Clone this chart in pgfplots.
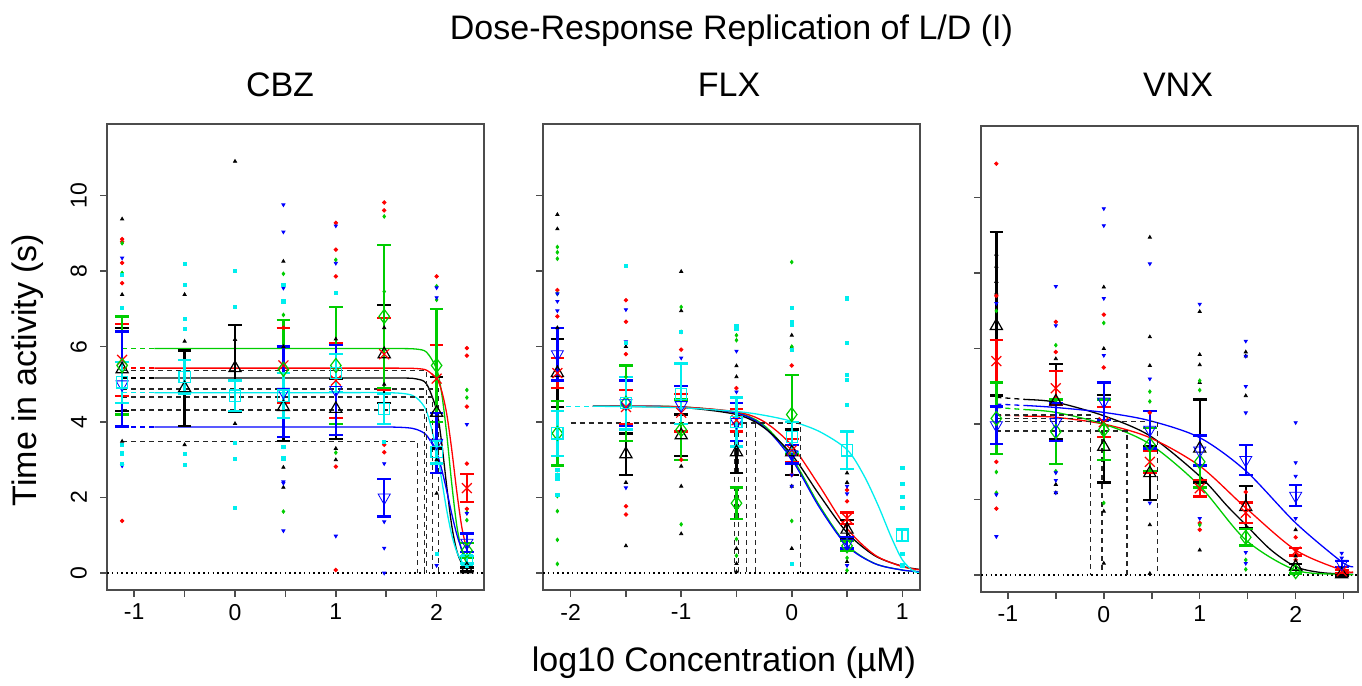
\documentclass[border=0pt]{standalone}
\usepackage{pgfplots}
\pgfplotsset{compat=1.18}
\usepackage{fontspec}
\setmainfont{Liberation Sans}
\definecolor{rred}{RGB}{255,0,0}
\definecolor{rgreen}{RGB}{0,205,0}
\definecolor{rblue}{RGB}{0,0,255}
\definecolor{rcyan}{RGB}{0,238,238}
\pgfplotsset{
 panel/.style={
  scale only axis, width=188.5pt, height=233pt,
  ymin=-0.45, ymax=11.9,
  ytick={0,2,4,6,8,10},
  tick align=outside, major tick length=3.5pt,
  xtick pos=left, ytick pos=left,
  axis line style={black!70, line width=0.75pt},
  tick style={black!70, line width=0.75pt},
  tick label style={font=\fontsize{11.5}{13}\selectfont, black},
  yticklabel style={rotate=90, anchor=south},
  yticklabel shift=3pt,
  anchor=south west,
 },
 mean/.style={only marks, mark size=3.5pt, mark options={line width=0.6pt, solid, fill=none},
  error bars/y dir=both, error bars/y explicit,
  error bars/error bar style={line width=1.15pt, solid},
  error bars/error mark options={rotate=90, mark size=3.4pt, line width=1.15pt}},
 dots/.style={only marks, mark size=0.9pt, mark options={solid}},
 fit/.style={line width=0.65pt, smooth, tension=0.5},
 ext/.style={line width=0.65pt, dash pattern=on 2.5pt off 2pt},
 ec/.style={black!85, line width=0.7pt, dash pattern=on 2.5pt off 2pt},
 zero/.style={black, line width=0.8pt, dash pattern=on 0.8pt off 1.6pt},
}
\newcommand{\bigfont}{\fontsize{17}{20}\selectfont}
\begin{document}
\begin{tikzpicture}
\useasboundingbox (0,0) rectangle (681pt,343pt);
\node[anchor=base, font=\bigfont] at (365.75pt,323pt) {Dose-Response Replication of L/D (I)};
\node[anchor=base, font=\bigfont] at (140pt,294.6pt) {CBZ};
\node[anchor=base, font=\bigfont] at (364.5pt,294.6pt) {FLX};
\node[anchor=base, font=\bigfont] at (589pt,294.6pt) {VNX};
\node[rotate=90, font=\bigfont] at (14pt,158pt) {Time in activity (s)};
\node[anchor=base, font=\bigfont] at (362pt,7pt) {log10 Concentration (µM)};

% ---------------- CBZ ----------------
\begin{axis}[panel, at={(53.5pt,48pt)}, xmin=-1.27, xmax=2.47,
  xtick={-1,-0.5,0,0.5,1,1.5,2}, xticklabels={-1,,0,,1,,2},
  yticklabels={0,2,4,6,8,10}]
\addplot[zero] coordinates {(-1.27,0)(2.47,0)};
\addplot[dots, black, mark=triangle*] coordinates {(-1.12,9.38)(-1.12,7.38)(-1.12,3.49)(-0.5,7.38)(-0.5,6.14)(-0.5,3.4)(0,10.91)(0,6.19)(0,3.96)(0.48,8.26)(0.48,2.8)(0.48,2.27)(1,3.0)(1,3.3)(1.48,5.0)(2,2.11)(2.3,0.05)(2,3.0)(1.48,6.5)(0.48,6.0)(1,6.2)};
\addplot[dots, rred, mark=*] coordinates {(-1.12,8.85)(-1.12,8.78)(-1.12,8.22)(-1.12,7.68)(-1.12,1.38)(0.48,6.5)(0.48,7.2)(1,9.28)(1,8.57)(1,7.86)(1,2.82)(1,0.08)(1.48,9.82)(1.48,9.61)(1.48,3.4)(1.48,3.2)(2,7.86)(2.3,5.96)(2.3,5.76)(2.3,4.41)(2.3,2.9)(2.3,1.7)};
\addplot[dots, rgreen, mark=diamond*] coordinates {(-1.12,8.74)(-1.12,7.95)(0.48,7.93)(0.48,6.84)(0.48,1.63)(1,8.3)(1,3.19)(1.48,9.45)(1.48,7.46)(2,7.6)(2,7.24)(2.3,4.85)(2.3,4.65)(2.3,1.6)(2.3,1.4)};
\addplot[dots, rblue, mark=triangle*, mark options={rotate=180}] coordinates {(-1.12,8.35)(-1.12,2.84)(0.48,9.76)(0.48,9.04)(0.48,7.55)(0.48,2.42)(0.48,2.38)(0.48,1.12)(0.48,3.35)(1,9.2)(1,8.21)(1,0.98)(1.48,2.9)(1.48,1.36)(1.48,0.66)(1.48,0.0)(2,7.56)(2,7.3)(2,0.2)(2.3,3.94)(2.3,1.58)};
\addplot[dots, rcyan, mark=square*, mark size=0.8pt] coordinates {(-1.12,7.9)(-1.12,7.02)(-1.12,3.17)(-1.12,2.9)(-1.12,3.4)(-0.5,8.19)(-0.5,7.63)(-0.5,6.73)(-0.5,6.46)(-0.5,3.15)(-0.5,2.87)(0,8.0)(0,7.05)(0,3.44)(0,3.02)(0,1.72)(0.48,7.63)(0.48,7.2)(0.48,3.35)(0.48,3.04)(1,7.43)(1.48,3.48)(2,0.51)(2.3,0.2)};
% fitted curves
\addplot[ext, rgreen] coordinates {(-1.12,5.95)(-0.8,5.95)};
\addplot[fit, rgreen] coordinates {(-0.8,5.95)(0,5.95)(1,5.95)(1.5,5.95)(1.7,5.947)(1.8,5.934)(1.9,5.853)(2.0,5.406)(2.05,4.764)(2.1,3.686)(2.15,2.365)(2.2,1.255)(2.25,0.581)(2.3,0.25)};
\addplot[ext, rred] coordinates {(-1.12,5.43)(-0.8,5.43)};
\addplot[fit, rred] coordinates {(-0.8,5.43)(0,5.43)(1,5.43)(1.5,5.43)(1.7,5.428)(1.8,5.419)(1.9,5.375)(2.0,5.148)(2.05,4.826)(2.1,4.219)(2.15,3.271)(2.2,2.159)(2.25,1.212)(2.3,0.604)};
\addplot[ext, black] coordinates {(-1.12,5.17)(-0.8,5.17)};
\addplot[fit, black] coordinates {(-0.8,5.17)(0,5.17)(1,5.17)(1.5,5.17)(1.7,5.166)(1.8,5.144)(1.9,5.011)(2.0,4.312)(2.05,3.452)(2.1,2.302)(2.15,1.255)(2.2,0.587)(2.25,0.252)(2.3,0.103)};
\addplot[ext, rcyan] coordinates {(-1.12,4.78)(-0.8,4.78)};
\addplot[fit, rcyan] coordinates {(-0.8,4.78)(0,4.78)(1,4.78)(1.5,4.78)(1.7,4.746)(1.8,4.645)(1.9,4.283)(2.0,3.261)(2.05,2.473)(2.1,1.667)(2.15,1.008)(2.2,0.564)(2.25,0.299)(2.3,0.154)};
\addplot[ext, rblue] coordinates {(-1.12,3.87)(-0.8,3.87)};
\addplot[fit, rblue] coordinates {(-0.8,3.87)(0,3.87)(1,3.87)(1.5,3.87)(1.7,3.852)(1.8,3.806)(1.9,3.651)(2.0,3.183)(2.05,2.747)(2.1,2.181)(2.15,1.569)(2.2,1.024)(2.25,0.617)(2.3,0.352)};
% EC lines
\addplot[ec] coordinates {(-1.12,5.37)(1.9,5.37)(1.9,0)};
\addplot[ec] coordinates {(-1.12,4.88)(2.02,4.88)(2.02,0)};
\addplot[ec] coordinates {(-1.12,4.66)(1.96,4.66)(1.96,0)};
\addplot[ec] coordinates {(-1.12,4.32)(1.88,4.32)(1.88,0)};
\addplot[ec] coordinates {(-1.12,3.48)(1.81,3.48)(1.81,0)};
% means
\addplot[mean, black, mark=triangle] coordinates {(-1.12,5.4) +- (0,1.1) (-0.5,4.9) +- (0,1.0) (0,5.43) +- (0,1.15) (0.48,4.4) +- (0,0.9) (1,4.35) +- (0,0.8) (1.48,5.8) +- (0,1.3) (2,4.25) +- (0,0.95) (2.3,0.1) +- (0,0.05)};
\addplot[mean, rred, mark=x] coordinates {(-1.12,5.65) +- (0,0.95) (0.48,5.5) +- (0,1.0) (1,5.1) +- (0,1.0) (1.48,5.8) +- (0,0.95) (2,5.15) +- (0,0.9) (2.3,2.25) +- (0,0.37)};
\addplot[mean, rgreen, mark=diamond] coordinates {(-1.12,5.5) +- (0,1.3) (0.48,5.4) +- (0,1.3) (1,5.5) +- (0,1.55) (1.48,6.8) +- (0,1.9) (2,5.5) +- (0,1.5) (2.3,0.6) +- (0,0.2)};
\addplot[mean, rblue, mark=triangle, mark options={rotate=180}] coordinates {(-1.12,5.0) += (0,1.4) -= (0,1.12) (0.48,4.8) +- (0,1.2) (1,4.85) +- (0,1.2) (1.48,2.0) +- (0,0.5) (2,3.45) +- (0,0.8) (2.3,0.8) +- (0,0.25)};
\addplot[mean, rcyan, mark=square, mark size=2.8pt] coordinates {(-1.12,5.05) +- (0,0.55) (-0.5,5.2) +- (0,0.45) (0,4.7) +- (0,0.4) (0.48,4.7) +- (0,0.6) (1,5.3) +- (0,0.5) (1.48,4.35) +- (0,0.4) (2,3.2) +- (0,0.3) (2.3,0.35) +- (0,0.1)};
\end{axis}

% ---------------- FLX ----------------
\begin{axis}[panel, at={(271.5pt,48pt)}, xmin=-2.25, xmax=1.16,
  xtick={-2,-1.5,-1,-0.5,0,0.5,1}, xticklabels={-2,,-1,,0,,1},
  yticklabels={}]
\addplot[zero] coordinates {(-2.25,0)(1.16,0)};
\addplot[dots, black, mark=triangle*] coordinates {(-2.12,9.5)(-2.12,9.12)(-2.12,6.5)(-1.5,0.72)(-1.5,2.4)(-1.5,6.0)(-1,7.99)(-1,6.95)(-1,2.3)(-1,1.04)(-1,2.83)(-0.5,5.49)(-0.5,0.65)(-0.5,0.25)(-0.5,0.03)(-0.5,5.2)(0,6.3)(0,5.98)(0,0.65)(0,2.3)(0.5,2.65)(0.5,2.4)(0.5,0.3)};
\addplot[dots, rred, mark=*] coordinates {(-2.12,7.5)(-2.12,6.8)(-2.12,2.6)(-1.5,7.23)(-1.5,6.66)(-1.5,1.77)(-1.5,1.55)(-1.5,5.8)(-1,5.92)(-1,3.0)(-0.5,4.9)(0,5.5)(0,2.6)(0.5,2.2)(0.5,1.9)};
\addplot[dots, rgreen, mark=diamond*] coordinates {(-2.12,8.64)(-2.12,8.5)(-2.12,8.33)(-2.12,2.04)(-2.12,1.64)(-2.12,0.88)(-2.12,0.24)(-2.12,7.4)(-1,7.05)(-1,6.39)(-1,1.29)(-0.5,6.3)(-0.5,6.17)(-0.5,0.46)(-0.5,0.9)(0,8.24)(0,1.38)(0,6.0)(0.5,0.07)(0.5,0.4)(-1.5,5.2)};
\addplot[dots, rblue, mark=triangle*, mark options={rotate=180}] coordinates {(-2.12,7.4)(-2.12,7.2)(-2.12,6.95)(-1.5,6.98)(-1.5,6.13)(-1.5,2.26)(-1,5.7)(-0.5,5.88)(-0.5,4.8)(0,2.6)(0,2.3)(0.5,2.3)(0.5,2.1)(0.5,0.2)};
\addplot[dots, rcyan, mark=square*, mark size=0.8pt] coordinates {(-2.12,2.74)(-2.12,2.6)(-2.12,2.5)(-2.12,2.08)(-1.5,8.13)(-1.5,6.1)(-1,6.4)(-0.5,6.55)(-0.5,6.47)(0,7.03)(0,6.66)(0,6.57)(0,5.91)(0,0.24)(0.5,7.28)(0.5,6.09)(0.5,5.25)(0.5,5.12)(0.5,4.46)(1,2.78)(1,2.37)(1,2.01)(1,1.73)(1,0.2)(1,0.5)};
\addplot[ext, rcyan] coordinates {(-2.12,4.42)(-1.8,4.42)};
\addplot[fit, rgreen] coordinates {(-1.8,4.42)(-1.5,4.418)(-1,4.405)(-0.5,4.25)(-0.25,3.91)(0,3.07)(0.25,1.79)(0.5,0.745)(0.75,0.253)(1,0.079)(1.15,0.039)};
\addplot[fit, rblue] coordinates {(-1.8,4.42)(-1.5,4.418)(-1,4.40)(-0.5,4.24)(-0.25,3.87)(0,3.01)(0.25,1.74)(0.5,0.72)(0.75,0.25)(1,0.078)(1.15,0.038)};
\addplot[fit, black] coordinates {(-1.8,4.42)(-1.5,4.416)(-1,4.39)(-0.5,4.2)(-0.25,3.85)(0,3.14)(0.25,2.07)(0.5,1.07)(0.75,0.46)(1,0.18)(1.15,0.098)};
\addplot[fit, rred] coordinates {(-1.8,4.42)(-1.5,4.418)(-1,4.40)(-0.5,4.27)(-0.25,4.01)(0,3.38)(0.25,2.31)(0.5,1.18)(0.75,0.48)(1,0.17)(1.15,0.092)};
\addplot[fit, rcyan] coordinates {(-1.8,4.42)(-1.5,4.41)(-1,4.38)(-0.5,4.28)(-0.25,4.18)(0,4.02)(0.25,3.75)(0.5,3.27)(0.65,2.6)(0.78,1.8)(0.9,0.95)(1.0,0.35)(1.1,0.05)(1.15,0.02)};
\addplot[ec] coordinates {(-2.0,3.98)(0.08,3.98)(0.08,0)};
\addplot[ec] coordinates {(-0.52,3.98)(-0.52,0)};
\addplot[ec] coordinates {(-0.48,3.98)(-0.48,0)};
\addplot[ec] coordinates {(-0.41,3.98)(-0.41,0)};
\addplot[ec] coordinates {(-0.33,3.98)(-0.33,0)};
\addplot[mean, black, mark=triangle] coordinates {(-2.12,5.3) +- (0,0.9) (-1.5,3.15) +- (0,0.55) (-1,3.65) +- (0,0.55) (-0.5,3.2) +- (0,0.55) (0,3.2) +- (0,0.6) (0.5,1.15) +- (0,0.25)};
\addplot[mean, rred, mark=x] coordinates {(-2.12,5.3) +- (0,0.4) (-1.5,4.4) +- (0,0.45) (-1,4.25) +- (0,0.5) (-0.5,4.05) +- (0,0.3) (0,3.25) +- (0,0.3) (0.5,1.45) +- (0,0.15)};
\addplot[mean, rgreen, mark=diamond] coordinates {(-2.12,3.7) +- (0,0.85) (-1.5,4.5) +- (0,1.0) (-1,3.8) +- (0,0.8) (-0.5,1.85) +- (0,0.42) (0,4.2) +- (0,1.05) (0.5,0.72) +- (0,0.12)};
\addplot[mean, rblue, mark=triangle, mark options={rotate=180}] coordinates {(-2.12,5.8) +- (0,0.7) (-1.5,4.5) +- (0,0.6) (-1,4.45) +- (0,0.5) (-0.5,4.0) +- (0,0.5) (0,3.15) +- (0,0.25) (0.5,0.8) +- (0,0.15)};
\addplot[mean, rcyan, mark=square, mark size=2.8pt] coordinates {(-2.12,3.7) +- (0,0.6) (-1.5,4.5) +- (0,0.7) (-1,4.75) +- (0,0.8) (-0.5,4.0) +- (0,0.65) (0,3.6) +- (0,0.4) (0.5,3.25) +- (0,0.5) (1,1.0) +- (0,0.15)};
\end{axis}

% ---------------- VNX ----------------
\begin{axis}[panel, at={(490.5pt,47pt)}, xmin=-1.28, xmax=2.65,
  xtick={-1,-0.5,0,0.5,1,1.5,2,2.5}, xticklabels={-1,,0,,1,,2,},
  yticklabels={}]
\addplot[zero] coordinates {(-1.28,0)(2.65,0)};
\addplot[dots, black, mark=triangle*] coordinates {(-1.12,8.18)(-1.12,7.78)(-1.12,7.47)(-1.12,8.5)(-0.5,5.73)(-0.5,2.18)(-0.5,2.4)(0,7.63)(0,1.69)(0,0.31)(0,6.0)(0.48,8.95)(0.48,6.31)(0.48,5.55)(0.48,1.33)(0.48,0.04)(1,6.98)(1,5.84)(1,5.57)(1,0.66)(1,5.1)(1.48,5.91)(1.48,4.75)(1.48,5.8)(2,0.5)(2,1.2)};
\addplot[dots, rred, mark=*] coordinates {(-1.12,10.9)(-1.12,1.76)(-1.12,3.0)(-1.12,7.4)(-0.5,6.71)(-0.5,5.91)(0,6.9)(0,5.5)(0.48,4.3)(1,1.38)(1,1.2)(1.48,2.2)(2,1.0)(2,0.4)};
\addplot[dots, rgreen, mark=diamond*] coordinates {(-1.12,2.73)(-1.12,2.18)(-1.12,7.0)(-0.5,6.09)(-0.5,2.75)(0,6.68)(0,1.91)(0.48,4.86)(0.48,4.6)(1,5.15)(1,1.33)(1,4.9)(1.48,0.15)(1.48,0.4)(2,0.05)};
\addplot[dots, rblue, mark=triangle*, mark options={rotate=180}] coordinates {(-1.12,7.2)(-1.12,2.13)(-1.12,1.02)(-0.5,7.65)(-0.5,6.61)(-0.5,2.71)(-0.5,2.51)(-0.5,2.18)(0,9.71)(0,9.26)(0,7.33)(0,5.82)(0.48,8.25)(0.48,1.91)(0.48,5.2)(1,7.18)(1,1.5)(1.48,6.2)(1.48,5.8)(1.48,5.0)(1.48,4.3)(1.48,0.31)(1.48,0.6)(2,4.04)(2,2.98)(2,2.62)(2,1.5)(2.48,0.58)(2.48,0.45)};
\addplot[ext, black] coordinates {(-1.12,4.71)(-0.8,4.65)};
\addplot[fit, black] coordinates {(-0.8,4.65)(-0.5,4.58)(0,4.22)(0.48,3.69)(1,2.62)(1.29,1.82)(1.48,1.33)(1.74,0.67)(2,0.22)(2.25,0.07)(2.48,0.03)(2.6,0.02)};
\addplot[ext, rred] coordinates {(-1.12,4.24)(-0.8,4.21)};
\addplot[fit, rred] coordinates {(-0.8,4.21)(-0.5,4.18)(0,4.0)(0.48,3.64)(1,2.89)(1.48,1.78)(2,0.66)(2.48,0.13)(2.6,0.08)};
\addplot[ext, rgreen] coordinates {(-1.12,4.44)(-0.8,4.38)};
\addplot[fit, rgreen] coordinates {(-0.8,4.38)(-0.5,4.31)(0,4.0)(0.48,3.47)(1,2.36)(1.48,0.93)(2,0.13)(2.48,0.02)(2.6,0.01)};
\addplot[ext, rblue] coordinates {(-1.12,4.53)(-0.8,4.49)};
\addplot[fit, rblue] coordinates {(-0.8,4.49)(-0.5,4.44)(0,4.31)(0.48,4.09)(1,3.64)(1.48,2.76)(2,1.38)(2.48,0.35)(2.6,0.22)};
\addplot[ec] coordinates {(-1.12,4.24)(-0.14,4.24)(-0.14,0)};
\addplot[ec] coordinates {(-1.12,4.15)(-0.02,4.15)(-0.02,0)};
\addplot[ec] coordinates {(-1.12,4.07)(0.56,4.07)(0.56,0)};
\addplot[ec] coordinates {(-1.12,3.82)(0.24,3.82)(0.24,0)};
\addplot[mean, black, mark=triangle] coordinates {(-1.12,6.6) += (0,2.5) -= (0,1.84) (-0.5,4.6) +- (0,1.0) (0,3.4) += (0,1.38) -= (0,0.95) (0.48,2.7) +- (0,0.72) (1,3.35) += (0,1.3) -= (0,0.9) (1.48,1.8) +- (0,0.55) (2,0.22) +- (0,0.08) (2.48,0.02) +- (0,0.03)};
\addplot[mean, rred, mark=x] coordinates {(-1.12,5.67) +- (0,0.55) (-0.5,4.95) +- (0,0.45) (0,4.05) +- (0,0.4) (0.48,3.0) +- (0,0.3) (1,2.3) +- (0,0.22) (1.48,1.65) +- (0,0.27) (2,0.62) +- (0,0.1) (2.48,0.1) +- (0,0.04)};
\addplot[mean, rgreen, mark=diamond] coordinates {(-1.12,4.15) +- (0,0.95) (-0.5,3.8) +- (0,0.85) (0,3.85) +- (0,0.8) (0.48,3.45) += (0,0.45) -= (0,0.7) (1,3.0) +- (0,0.68) (1.48,1.0) +- (0,0.22) (2,0.09) +- (0,0.05)};
\addplot[mean, rblue, mark=triangle, mark options={rotate=180}] coordinates {(-1.12,3.97) +- (0,0.5) (-0.5,4.05) +- (0,0.5) (0,4.6) +- (0,0.5) (0.48,3.85) +- (0,0.5) (1,3.3) +- (0,0.4) (1.48,3.05) +- (0,0.4) (2,2.1) +- (0,0.28) (2.48,0.3) +- (0,0.08)};
\end{axis}
\end{tikzpicture}
\end{document}
